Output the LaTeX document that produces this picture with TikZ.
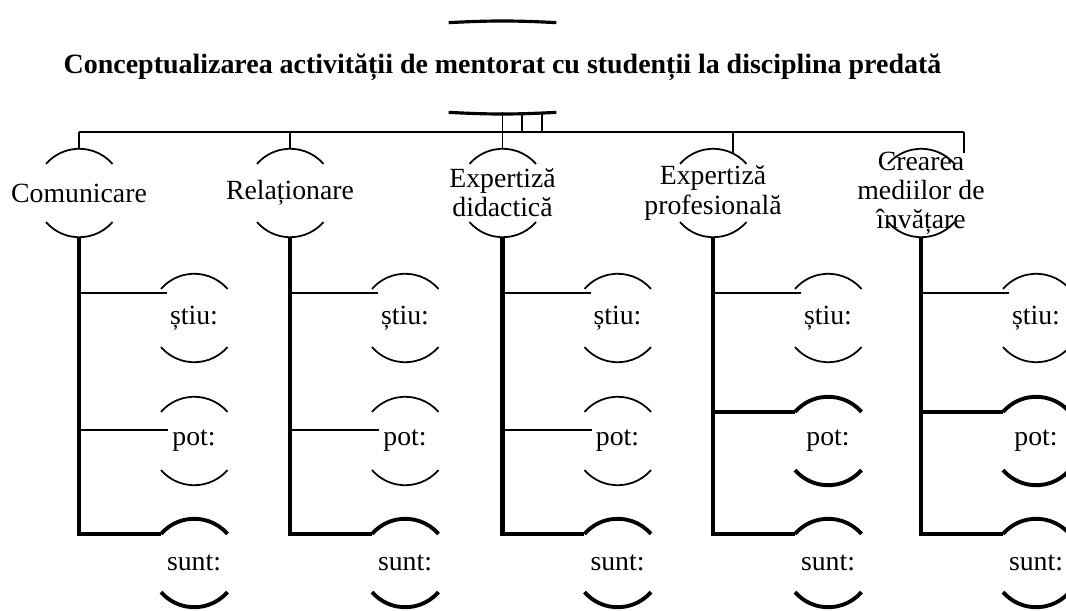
\documentclass[tikz,border=0pt]{standalone}
\usepackage{fontspec}
\setmainfont{Liberation Serif}
\usepackage{tikz}
\usetikzlibrary{calc}

\newcommand{\nodefont}{\fontsize{15.8}{16.6}\selectfont}
% top and bottom arcs of a bracket pair
\newcommand{\bracepair}[2][line width=1pt]{%
  \draw[#1] (#2.41) arc[start angle=41, end angle=139, radius=0.88cm];
  \draw[#1] (#2.319) arc[start angle=319, end angle=221, radius=0.88cm];}

\begin{document}
\begin{tikzpicture}[
  topic/.style={circle, minimum size=1.76cm, inner sep=0pt},
  lbl/.style={font=\nodefont, align=center, inner sep=0pt},
  ttl/.style={font=\fontsize{15.9}{18}\selectfont\bfseries, inner sep=0pt},
  rootbox/.style={rectangle, minimum width=2.14cm, minimum height=1.78cm, inner sep=0pt},
  thinln/.style={line width=1.1pt},
  stem/.style={line width=2.7pt},
  heavy/.style={line width=2.2pt},
]
\useasboundingbox (0,0) rectangle (21.32,12.2);

%% ROOT
\node[rootbox, label={[ttl]center:Conceptualizarea activității de mentorat cu studenții la disciplina predată}] (root) at (10.05,10.85) {};
\draw[line width=1.8pt] (root.north west) to[bend left=3] (root.north east);
\draw[line width=1.8pt] (root.south west) to[bend right=3] (root.south east);

\coordinate (bar) at (0,9.56);
\coordinate (rj1) at ($(root.south)+(0.39,0)$);
\coordinate (rj2) at ($(root.south)+(0.79,0)$);
\coordinate (creJ) at (19.28,9.14);

%% TOPICS
\node[topic, label={[lbl]center:Comunicare}] (com) at (1.58,8.34) {};
\node[topic, label={[lbl]center:Relaționare}] (rel) at (5.80,8.34) {};
\node[topic, label={[lbl]center:{Expertiză\\didactică}}] (did) at (10.05,8.34) {};
\node[topic, label={[lbl]center:{Expertiză\\profesională}}] (pro) at (14.26,8.34) {};
\node[topic, label={[lbl]center:{Crearea\\mediilor de\\învățare}}] (cre) at (18.42,8.34) {};

\bracepair{com} \bracepair{rel} \bracepair{did} \bracepair{pro} \bracepair{cre}

\draw[thinln] (com.north |- bar) -- (creJ |- bar);
\draw[thinln] (com.north) -- (com.north |- bar);
\draw[thinln] (rel.north) -- (rel.north |- bar);
\draw[thinln] (root.south) -- (did.north);
\draw[thinln] (rj1) -- (rj1 |- bar);
\draw[thinln] (rj2) -- (rj2 |- bar);
\draw[thinln] (pro.63) -- (pro.63 |- bar);
\draw[thinln] (creJ |- bar) -- (creJ);

%% COMUNICARE
\node[topic, label={[lbl]center:știu:}] (comA) at (3.88,5.84) {};
\node[topic, label={[lbl]center:pot:}]  (comB) at (3.88,3.38) {};
\node[topic, label={[lbl]center:sunt:}] (comC) at (3.88,0.94) {};
\bracepair{comA} \bracepair{comB} \bracepair[heavy]{comC}
\draw[stem] (com.south) |- (comC.139);
\draw[thinln] ($(com.south |- comA)+(0,0.50)$) -- ($(comA)+(-0.54,0.50)$);
\draw[thinln] ($(com.south |- comB)+(0,0.22)$) -- ($(comB)+(-0.52,0.22)$);

%% RELATIONARE
\node[topic, label={[lbl]center:știu:}] (relA) at (8.10,5.84) {};
\node[topic, label={[lbl]center:pot:}]  (relB) at (8.10,3.38) {};
\node[topic, label={[lbl]center:sunt:}] (relC) at (8.10,0.94) {};
\bracepair{relA} \bracepair{relB} \bracepair[heavy]{relC}
\draw[stem] (rel.south) |- (relC.139);
\draw[thinln] ($(rel.south |- relA)+(0,0.50)$) -- ($(relA)+(-0.54,0.50)$);
\draw[thinln] ($(rel.south |- relB)+(0,0.22)$) -- ($(relB)+(-0.52,0.22)$);

%% EXPERTIZA DIDACTICA
\node[topic, label={[lbl]center:știu:}] (didA) at (12.35,5.84) {};
\node[topic, label={[lbl]center:pot:}]  (didB) at (12.35,3.38) {};
\node[topic, label={[lbl]center:sunt:}] (didC) at (12.35,0.94) {};
\bracepair{didA} \bracepair{didB} \bracepair[heavy]{didC}
\draw[stem] (did.south) |- (didC.139);
\draw[thinln] ($(did.south |- didA)+(0,0.50)$) -- ($(didA)+(-0.54,0.50)$);
\draw[thinln] ($(did.south |- didB)+(0,0.22)$) -- ($(didB)+(-0.52,0.22)$);

%% EXPERTIZA PROFESIONALA
\node[topic, label={[lbl]center:știu:}] (proA) at (16.56,5.84) {};
\node[topic, label={[lbl]center:pot:}]  (proB) at (16.56,3.38) {};
\node[topic, label={[lbl]center:sunt:}] (proC) at (16.56,0.94) {};
\bracepair{proA} \bracepair[heavy]{proB} \bracepair[heavy]{proC}
\draw[stem] (pro.south) |- (proC.139);
\draw[thinln] ($(pro.south |- proA)+(0,0.50)$) -- ($(proA)+(-0.54,0.50)$);
\draw[stem] (pro.south |- proB.139) -- (proB.139);

%% CREAREA MEDIILOR DE INVATARE
\node[topic, label={[lbl]center:știu:}] (creA) at (20.72,5.84) {};
\node[topic, label={[lbl]center:pot:}]  (creB) at (20.72,3.38) {};
\node[topic, label={[lbl]center:sunt:}] (creC) at (20.72,0.94) {};
\bracepair{creA} \bracepair[heavy]{creB} \bracepair[heavy]{creC}
\draw[stem] (cre.south) |- (creC.139);
\draw[thinln] ($(cre.south |- creA)+(0,0.50)$) -- ($(creA)+(-0.54,0.50)$);
\draw[stem] (cre.south |- creB.139) -- (creB.139);

\end{tikzpicture}
\end{document}
